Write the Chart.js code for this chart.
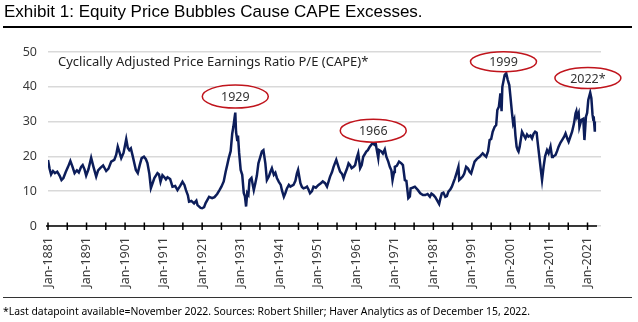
<!DOCTYPE html>
<html>
<head>
<meta charset="utf-8">
<script src="https://cdn.jsdelivr.net/npm/chart.js@4.4.0/dist/chart.umd.min.js"></script>
<style>
  body { margin: 0; background: #fff; }
  #wrap { position: relative; width: 638px; height: 322px; overflow: hidden; }
  #chart { position: absolute; left: 0; top: 0; }
  .title { position: absolute; left: 4px; top: 2px; font: 17px "Liberation Sans", Arial, sans-serif; color: #000; white-space: nowrap; }
  .rule { position: absolute; left: 3px; width: 629px; background: #000; }
  .sub { position: absolute; left: 58px; top: 52px; font: 13px "Noto Sans", sans-serif; color: #222; white-space: nowrap; }
  .foot { position: absolute; left: 3px; top: 304px; font: 10.4px "Noto Sans", sans-serif; color: #000; white-space: nowrap; }
</style>
</head>
<body>
<div id="wrap">
  <canvas id="chart" width="638" height="322"></canvas>
  <div class="title">Exhibit 1: Equity Price Bubbles Cause CAPE Excesses.</div>
  <div class="rule" style="top:26px;height:1.5px"></div>
  <div class="sub">Cyclically Adjusted Price Earnings Ratio P/E (CAPE)*</div>
  <div class="rule" style="top:297px;height:1px;background:#333"></div>
  <div class="foot">*Last datapoint available=November 2022. Sources: Robert Shiller; Haver Analytics as of December 15, 2022.</div>
</div>
<script>
// Shiller CAPE, sampled a few times a year
const years = [
  1881.0, 1881.4, 1881.8, 1882.3, 1882.8, 1883.4, 1884.0, 1884.5, 1885.0, 1885.6,
  1886.2, 1886.8, 1887.3, 1887.9, 1888.5, 1889.0, 1889.6, 1890.0, 1890.5, 1890.9,
  1891.5, 1892.2, 1892.8, 1893.5, 1894.0, 1894.6, 1895.3, 1896.1, 1896.7, 1897.4,
  1898.2, 1898.7, 1899.1, 1899.6, 1900.0, 1900.6, 1901.3, 1901.7, 1902.1, 1902.5,
  1903.0, 1903.8, 1904.3, 1904.8, 1905.3, 1905.9, 1906.4, 1906.8, 1907.3, 1907.7,
  1908.2, 1908.6, 1909.4, 1909.8, 1910.2, 1910.7, 1911.2, 1911.6, 1912.0, 1912.7,
  1913.3, 1914.0, 1914.6, 1915.3, 1915.9, 1916.4, 1916.8, 1917.3, 1917.6, 1918.2,
  1918.9, 1919.5, 1919.8, 1920.6, 1921.0, 1921.5, 1921.9, 1922.4, 1922.8, 1923.6,
  1924.2, 1924.9, 1925.5, 1926.0, 1926.6, 1927.1, 1927.5, 1927.9, 1928.4, 1928.8,
  1929.1, 1929.4, 1929.6, 1929.8, 1930.1, 1930.3, 1930.6, 1931.0, 1931.4, 1931.8,
  1932.1, 1932.4, 1932.7, 1933.0, 1933.3, 1933.8, 1934.4, 1934.8, 1935.2, 1935.6,
  1936.0, 1936.5, 1936.9, 1937.4, 1937.8, 1938.3, 1938.7, 1939.1, 1939.6, 1940.0,
  1940.4, 1940.9, 1941.4, 1941.7, 1942.2, 1942.6, 1943.0, 1943.5, 1943.9, 1944.7,
  1945.2, 1945.6, 1945.9, 1946.5, 1946.9, 1947.3, 1947.8, 1948.2, 1948.6, 1949.0,
  1949.5, 1949.9, 1950.5, 1951.2, 1951.8, 1952.3, 1952.9, 1953.4, 1954.2, 1954.7,
  1955.1, 1955.8, 1956.4, 1956.8, 1957.3, 1957.7, 1958.1, 1958.6, 1959.0, 1959.4,
  1959.8, 1960.3, 1960.7, 1961.1, 1961.5, 1962.0, 1962.4, 1962.8, 1963.6, 1964.0,
  1964.5, 1965.2, 1965.8, 1966.0, 1966.3, 1966.7, 1966.9, 1967.5, 1967.9, 1968.4,
  1968.8, 1969.3, 1969.7, 1970.1, 1970.4, 1970.8, 1971.0, 1971.5, 1972.1, 1972.7,
  1973.1, 1973.6, 1974.0, 1974.5, 1974.9, 1975.1, 1975.6, 1976.2, 1977.0, 1977.6,
  1978.3, 1978.9, 1979.5, 1980.1, 1980.5, 1981.0, 1981.5, 1981.9, 1982.5, 1982.8,
  1983.2, 1983.6, 1984.1, 1984.5, 1984.9, 1985.4, 1985.8, 1986.3, 1986.6, 1987.1,
  1987.5, 1987.7, 1988.1, 1988.6, 1989.0, 1989.5, 1990.0, 1990.4, 1990.8, 1991.3,
  1991.7, 1992.3, 1993.0, 1993.8, 1994.3, 1994.7, 1995.2, 1995.6, 1996.0, 1996.4,
  1996.9, 1997.3, 1997.6, 1998.0, 1998.4, 1998.7, 1998.9, 1999.5, 1999.9, 2000.3,
  2000.7, 2001.0, 2001.4, 2001.7, 2002.0, 2002.3, 2002.6, 2002.9, 2003.1, 2003.4,
  2004.0, 2004.5, 2004.9, 2005.3, 2005.7, 2006.2, 2006.6, 2007.0, 2007.4, 2007.8,
  2008.0, 2008.5, 2008.9, 2009.2, 2009.6, 2010.0, 2010.5, 2010.9, 2011.4, 2011.8,
  2012.0, 2012.7, 2013.1, 2013.5, 2014.0, 2014.4, 2014.9, 2015.3, 2015.8, 2016.1,
  2016.5, 2017.0, 2017.5, 2017.9, 2018.1, 2018.3, 2018.7, 2018.9, 2019.4, 2019.9,
  2020.2, 2020.6, 2020.9, 2021.2, 2021.7, 2022.0, 2022.3, 2022.5, 2022.6, 2022.7,
  2022.9
];
const cape = [
  19.0, 16.5, 14.8, 15.8, 15.2, 15.6, 14.5, 13.2, 13.8, 15.5,
  17.0, 18.7, 17.2, 15.2, 16.0, 15.4, 17.0, 17.5, 16.2, 14.5,
  16.3, 19.6, 17.0, 14.2, 16.0, 16.7, 17.4, 15.8, 16.5, 18.5,
  19.0, 20.5, 22.8, 21.0, 19.5, 21.0, 25.0, 22.5, 21.8, 22.3,
  20.0, 16.1, 15.2, 17.5, 19.5, 19.9, 19.2, 18.1, 15.0, 10.9,
  12.5, 13.8, 15.2, 14.8, 12.7, 14.6, 14.0, 13.4, 14.0, 13.5,
  11.3, 11.5, 10.3, 11.5, 12.7, 11.8, 10.3, 8.8, 7.0, 7.2,
  6.5, 7.3, 6.0, 5.2, 5.1, 5.4, 6.6, 7.6, 8.4, 8.0,
  8.3, 9.2, 10.3, 11.3, 12.8, 15.6, 17.5, 19.5, 21.5, 26.5,
  28.5, 31.0, 32.6, 27.0, 24.7, 26.0, 21.0, 16.1, 14.7, 9.5,
  8.5, 5.6, 9.5, 9.0, 13.2, 13.8, 10.3, 12.3, 14.5, 18.0,
  19.5, 21.4, 21.8, 18.0, 13.2, 14.2, 15.5, 16.6, 14.7, 15.3,
  13.8, 12.7, 11.8, 10.3, 8.4, 9.5, 10.8, 11.8, 11.3, 11.8,
  13.0, 15.1, 16.1, 12.3, 11.2, 10.8, 11.0, 11.3, 10.5, 9.4,
  10.0, 11.3, 11.0, 11.8, 12.3, 12.8, 12.3, 11.3, 14.2, 15.5,
  17.0, 19.0, 16.9, 15.6, 15.0, 13.7, 15.1, 16.5, 18.0, 17.5,
  16.6, 17.0, 17.5, 19.5, 20.9, 16.6, 17.5, 19.9, 21.4, 21.8,
  22.8, 23.8, 23.3, 24.0, 22.0, 19.5, 21.8, 21.4, 20.8, 22.0,
  19.9, 18.5, 17.0, 16.0, 13.2, 15.5, 17.0, 17.3, 18.5, 18.0,
  17.5, 13.2, 13.0, 8.0, 8.5, 10.8, 11.0, 11.3, 10.3, 9.4,
  8.9, 8.9, 9.2, 8.4, 9.3, 8.9, 8.3, 7.5, 6.3, 7.8,
  9.4, 9.6, 8.4, 8.6, 9.9, 10.5, 11.3, 12.8, 13.7, 15.5,
  17.0, 13.2, 13.6, 14.2, 15.0, 17.0, 16.5, 15.6, 15.1, 17.0,
  18.5, 19.3, 19.9, 20.9, 20.3, 19.9, 21.5, 24.7, 25.0, 27.1,
  28.5, 29.0, 33.3, 34.3, 38.1, 33.0, 40.0, 43.4, 43.9, 42.0,
  40.5, 37.2, 32.5, 29.5, 30.5, 26.0, 22.8, 21.8, 21.4, 22.8,
  27.1, 26.0, 25.2, 26.3, 25.7, 26.0, 25.2, 26.5, 27.1, 26.8,
  24.7, 19.9, 16.0, 13.2, 17.0, 20.0, 21.8, 20.9, 22.8, 19.8,
  19.9, 20.4, 21.5, 22.8, 24.0, 24.7, 25.6, 26.6, 25.0, 24.2,
  25.5, 27.1, 29.5, 32.4, 33.0, 31.4, 32.5, 28.5, 30.5, 30.8,
  24.7, 31.4, 32.5, 36.2, 38.3, 36.7, 32.0, 30.5, 31.5, 30.0,
  27.1
];

// x ticks every five years, labelled every ten
const tickYears = [];
for (let y = 1881; y <= 2021; y += 5) tickYears.push(y);

const tickColor = "#3a3a3a";
const tickFont = { family: "Noto Sans", size: 12.5 };

// black baseline with cross ticks
const axisTicks = {
  id: "axisTicks",
  beforeDatasetsDraw(chart) {
    const { ctx, chartArea, scales } = chart;
    const y0 = scales.y.getPixelForValue(0);
    ctx.save();
    ctx.strokeStyle = "#000";
    ctx.lineWidth = 1.5;
    ctx.beginPath();
    ctx.moveTo(chartArea.left - 2, y0);
    ctx.lineTo(chartArea.right - 4, y0);
    scales.x.ticks.forEach(t => {
      const x = scales.x.getPixelForValue(t.value);
      ctx.moveTo(x, y0 - 3.5);
      ctx.lineTo(x, y0 + 4);
    });
    ctx.stroke();
    ctx.restore();
  }
};

// red ellipses naming the peaks
const peakBubbles = {
  id: "peakBubbles",
  afterDatasetsDraw(chart, args, opts) {
    const { ctx, scales } = chart;
    ctx.save();
    opts.items.forEach(it => {
      const x = scales.x.getPixelForValue(it.year);
      const y = scales.y.getPixelForValue(it.level);
      ctx.beginPath();
      ctx.ellipse(x, y, opts.rx, it.ry, 0, 0, Math.PI * 2);
      ctx.fillStyle = "#fff";
      ctx.fill();
      ctx.strokeStyle = "#c0141c";
      ctx.lineWidth = 1.5;
      ctx.stroke();
      ctx.fillStyle = "#333";
      ctx.font = "12.5px 'Noto Sans'";
      ctx.textAlign = "center";
      ctx.textBaseline = "middle";
      ctx.fillText(it.text, x, y + 1);
    });
    ctx.restore();
  }
};

new Chart(document.getElementById("chart"), {
  type: "line",
  data: {
    datasets: [{
      data: years.map((y, i) => ({ x: y, y: cape[i] })),
      borderColor: "#0c1d5a",
      borderWidth: 2.5,
      pointRadius: 0,
      tension: 0,
      fill: false
    }]
  },
  options: {
    responsive: false,
    animation: false,
    layout: { padding: { top: 52, right: 37, left: 8, bottom: 0 } },
    plugins: {
      legend: { display: false },
      tooltip: { enabled: false },
      peakBubbles: {
        rx: 33,
        items: [
          { text: "1929", year: 1929.6, level: 37.2, ry: 11.5 },
          { text: "1966", year: 1965.4, level: 27.4, ry: 11.5 },
          { text: "1999", year: 1999.2, level: 47.2, ry: 10 },
          { text: "2022*", year: 2021.1, level: 42.5, ry: 10.5 }
        ]
      }
    },
    scales: {
      x: {
        type: "linear",
        min: 1881,
        max: 2024.5,
        afterBuildTicks: s => { s.ticks = tickYears.map(v => ({ value: v })); },
        afterFit: s => { s.height = 96; },
        grid: { display: false, drawTicks: false },
        border: { display: false },
        ticks: {
          autoSkip: false,
          minRotation: 90,
          maxRotation: 90,
          padding: 11,
          color: tickColor,
          font: tickFont,
          callback: v => (v - 1881) % 10 === 0 ? "Jan-" + v : ""
        }
      },
      y: {
        min: 0,
        max: 50,
        afterFit: s => { s.width = 40; },
        grid: { color: "#d9d9d9", lineWidth: 1.5, drawTicks: false },
        border: { display: false },
        ticks: { stepSize: 5, padding: 11, color: tickColor, font: tickFont }
      }
    }
  },
  plugins: [axisTicks, peakBubbles]
});
</script>
</body>
</html>
